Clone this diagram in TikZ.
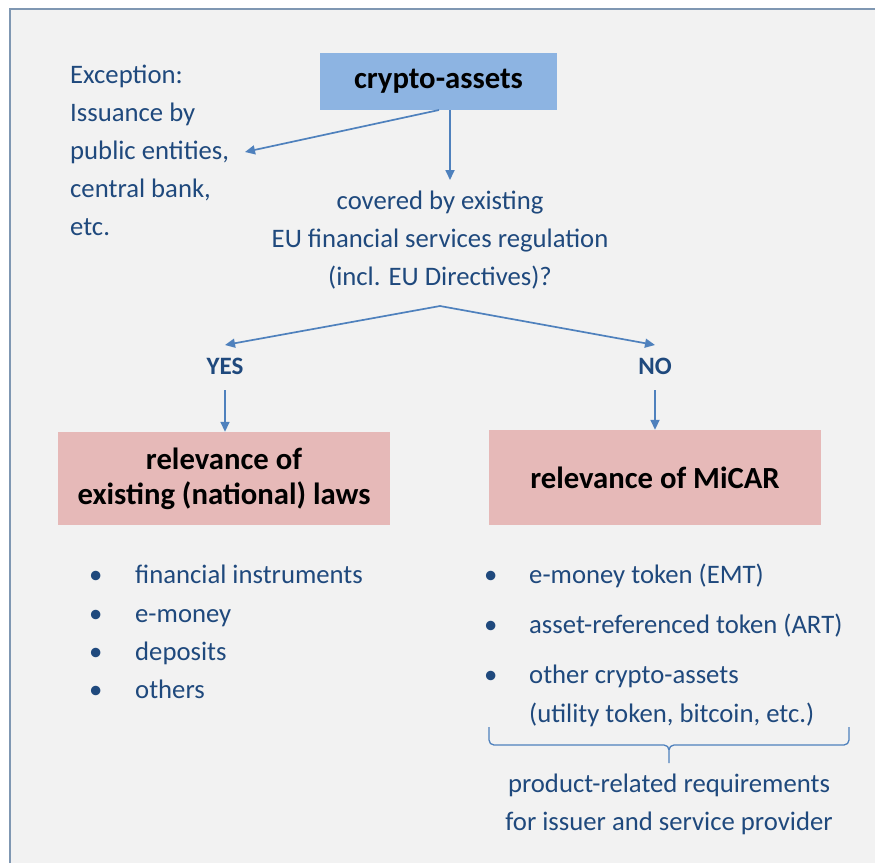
\documentclass[tikz,border=0pt]{standalone}
\usepackage{fontspec}
\setmainfont{Carlito}
\usetikzlibrary{arrows.meta}
\definecolor{bgc}{HTML}{F2F2F2}
\definecolor{framec}{HTML}{7F97B2}
\definecolor{txt}{HTML}{1F497D}
\definecolor{arr}{HTML}{4F81BD}
\definecolor{bluebox}{HTML}{8DB4E2}
\definecolor{pinkbox}{HTML}{E6B9B8}
\tikzset{
  lbl/.style={text=txt, font=\fontsize{26.7}{32}\selectfont, inner sep=0pt, anchor=base},
  lblw/.style={lbl, anchor=base west},
  head/.style={font=\bfseries\fontsize{30.7}{35}\selectfont, text=black, align=center},
  yn/.style={text=txt, font=\bfseries\fontsize{25}{30}\selectfont, inner sep=0pt, anchor=base},
  conn/.style={draw=arr, line width=1.7pt, -{Triangle[length=10pt,width=9pt]}},
}
\begin{document}
\begin{tikzpicture}[x=1pt,y=-1pt]
\useasboundingbox (0,0) rectangle (875,863);
\fill[white] (0,0) rectangle (875,863);
\fill[bgc] (10,9) rectangle (875,863);
\draw[framec, line width=2.5pt] (10,863) -- (10,9) -- (875,9);

% top box
\node[fill=bluebox, head, minimum width=237pt, minimum height=57pt, inner sep=0pt] (ca) at (438.5,81.5) {crypto-assets};

% exception text
\node[lblw] (e1) at (70,83) {Exception:};
\node[lblw] (e2) at (70,121) {Issuance by};
\node[lblw] (e3) at (70,159) {public entities,};
\node[lblw] (e4) at (70,197) {central bank,};
\node[lblw] (e5) at (70,235) {etc.};
\coordinate (excpt) at (245,152);

% question
\node[lbl] (q1) at (440,209) {covered by existing};
\node[lbl] (q2) at (440,247) {EU financial services regulation};
\node[lbl] (q3) at (440,285) {(incl. EU Directives)?};
\coordinate (qtop) at (450,180);
\coordinate (apex) at (440,306);

\draw[conn] (439,110) -- (excpt);
\draw[conn] (450,110) -- (qtop);

% yes / no
\node[yn] (yes) at (225,374) {YES};
\node[yn] (no) at (655,374) {NO};
\coordinate (yesin) at (225,345);
\coordinate (noin) at (655,345);
\coordinate (yesout) at (225,390);
\coordinate (noout) at (655,390);
\draw[conn] (apex) -- (yesin);
\draw[conn] (apex) -- (noin);

% pink boxes
\node[fill=pinkbox, head, minimum width=332pt, minimum height=93pt, inner sep=0pt] (nat) at (224,478.5) {relevance of\\existing (national) laws};
\node[fill=pinkbox, head, minimum width=332pt, minimum height=95pt, inner sep=0pt] (mic) at (655,477.5) {relevance of MiCAR};
\draw[conn] (yesout) -- (yesout |- nat.north);
\draw[conn] (noout) -- (noout |- mic.north);

% left bullets
\foreach \y/\t/\n in {583/financial instruments/a, 622/e-money/b, 660/deposits/c, 698/others/d}{
  \node[lblw] (lb\n) at (89,\y) {•};
  \node[lblw] (lt\n) at (135,\y) {\t};
}
% right bullets
\foreach \y/\t/\n in {583/e-money token (EMT)/a, 633/asset-referenced token (ART)/b, 683/other crypto-assets/c}{
  \node[lblw] (rb\n) at (484,\y) {•};
  \node[lblw] (rt\n) at (529,\y) {\t};
}
\node[lblw] (rtd) at (529,722) {(utility token, bitcoin, etc.)};

% brace
\draw[arr, line width=1.3pt, line join=round]
  (489,727) -- (489,740) to[out=-90,in=180] (494,745) -- (664,745)
  to[out=0,in=90] (669,750) -- (669,763)
  (669,750) to[out=90,in=180] (674,745) -- (844,745) to[out=0,in=-90] (849,740) -- (849,727);

\node[lbl] (req1) at (669,792) {product-related requirements};
\node[lbl] (req2) at (669,830) {for issuer and service provider};
\end{tikzpicture}
\end{document}
